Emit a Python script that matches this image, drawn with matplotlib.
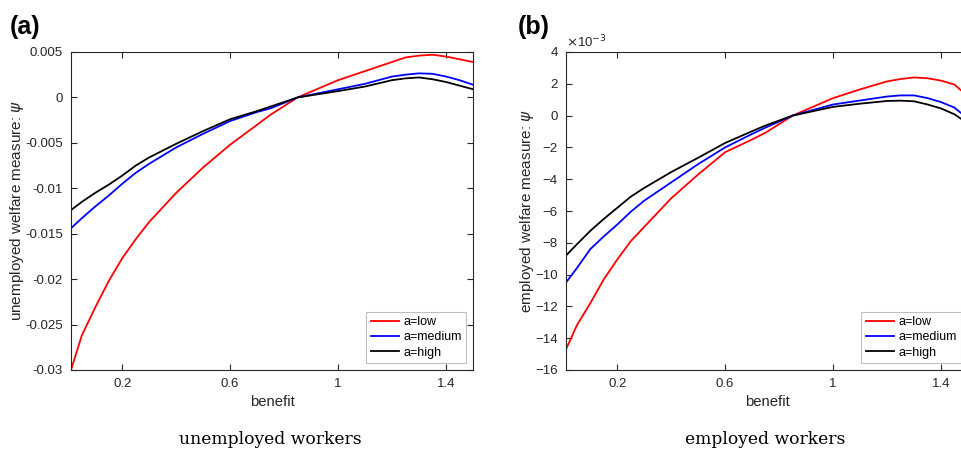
import matplotlib.pyplot as plt

# benefit grid
benefit = [0.01, 0.05, 0.1, 0.15, 0.2, 0.25, 0.3, 0.4, 0.5, 0.6, 0.7, 0.75,
           0.85, 1.0, 1.1, 1.2, 1.25, 1.3, 1.35, 1.4, 1.45, 1.5]

# (a) unemployed welfare measure
unemp_low = [-0.0300, -0.0262, -0.0231, -0.0202, -0.0177, -0.0156, -0.0137,
             -0.0105, -0.0077, -0.0052, -0.0030, -0.0019, 0.0, 0.0019,
             0.0029, 0.0039, 0.0044, 0.0046, 0.0047, 0.0045, 0.0042, 0.0039]
unemp_med = [-0.0144, -0.0133, -0.0120, -0.0108, -0.0095, -0.0083, -0.0073,
             -0.0055, -0.0040, -0.0026, -0.0016, -0.0012, 0.0, 0.0009,
             0.0015, 0.0023, 0.0025, 0.00265, 0.0026, 0.0023, 0.0019, 0.0014]
unemp_high = [-0.0124, -0.0115, -0.0105, -0.0096, -0.0086, -0.0075, -0.0066,
              -0.0051, -0.0037, -0.0024, -0.0015, -0.0010, 0.0, 0.0007,
              0.0012, 0.0019, 0.0021, 0.0022, 0.0020, 0.0017, 0.0013, 0.0009]

# (b) employed welfare measure, in units of 1e-3
emp_low = [-14.7, -13.2, -11.8, -10.3, -9.05, -7.9, -7.0, -5.2, -3.7, -2.3,
           -1.5, -1.07, 0.0, 1.1, 1.65, 2.15, 2.3, 2.4, 2.35, 2.2, 1.95, 1.2]
emp_med = [-10.5, -9.6, -8.4, -7.6, -6.85, -6.05, -5.35, -4.2, -3.05, -2.0,
           -1.15, -0.75, 0.0, 0.7, 0.95, 1.2, 1.27, 1.27, 1.1, 0.85, 0.5, -0.2]
emp_high = [-8.8, -8.1, -7.25, -6.5, -5.8, -5.1, -4.55, -3.55, -2.65, -1.72,
            -0.98, -0.62, 0.0, 0.55, 0.75, 0.92, 0.94, 0.9, 0.7, 0.45, 0.08, -0.5]

labels = ['a=low', 'a=medium', 'a=high']
colors = ['#ff0000', '#0000ff', '#000000']
xticks = [0.2, 0.6, 1, 1.4]
xticklabels = ['0.2', '0.6', '1', '1.4']
yticks_a = [-0.03, -0.025, -0.02, -0.015, -0.01, -0.005, 0, 0.005]
yticklabels_a = ['-0.03', '-0.025', '-0.02', '-0.015', '-0.01', '-0.005', '0', '0.005']
yticks_b = [-16, -14, -12, -10, -8, -6, -4, -2, 0, 2, 4]

plt.rcParams['font.family'] = ['Liberation Sans', 'DejaVu Sans']
axcol = '#262626'

fig = plt.figure(figsize=(9.62, 4.55), dpi=100)
ax_a = fig.add_axes([71 / 962, 85 / 455, 402 / 962, 318 / 455])
ax_b = fig.add_axes([566 / 962, 85 / 455, 402 / 962, 318 / 455])


def style_axes(ax, ylabel):
    ax.set_xlim(0.01, 1.5)
    ax.set_xticks(xticks)
    ax.set_xticklabels(xticklabels)
    ax.tick_params(direction='in', top=True, right=True, length=4, width=0.8,
                   colors=axcol, labelsize=9.5, pad=6)
    for s in ax.spines.values():
        s.set_color(axcol)
        s.set_linewidth(0.8)
    ax.set_xlabel('benefit', fontsize=10.7, color=axcol, labelpad=3)
    ax.set_ylabel(ylabel, fontsize=11, color=axcol, labelpad=-1)
    leg = ax.legend(loc='lower right', bbox_to_anchor=(1 - 7 / 402, 7 / 318),
                    borderaxespad=0, fontsize=9, fancybox=False, handlelength=2.3,
                    handletextpad=0.3, labelspacing=0.25, borderpad=0.35)
    leg.get_frame().set_edgecolor('#b0b0b0')
    leg.get_frame().set_linewidth(0.8)


for y, c, l in zip([unemp_low, unemp_med, unemp_high], colors, labels):
    ax_a.plot(benefit, y, color=c, lw=1.3, label=l)
ax_a.set_ylim(-0.03, 0.005)
ax_a.set_yticks(yticks_a)
ax_a.set_yticklabels(yticklabels_a)
style_axes(ax_a, r'unemployed welfare measure: $\psi$')

for y, c, l in zip([emp_low, emp_med, emp_high], colors, labels):
    ax_b.plot(benefit, y, color=c, lw=1.3, label=l)
ax_b.set_ylim(-16, 4)
ax_b.set_yticks(yticks_b)
style_axes(ax_b, r'employed welfare measure: $\psi$')
ax_b.text(0.0, 1.005, r'$\times$10$^{-3}$', transform=ax_b.transAxes,
          fontsize=9.5, color=axcol, ha='left', va='bottom')

fig.text(10 / 962, 1 - 27 / 455, '(a)', fontsize=18, fontweight='bold',
         ha='left', va='center')
fig.text(518 / 962, 1 - 27 / 455, '(b)', fontsize=18, fontweight='bold',
         ha='left', va='center')

fig.text(270 / 962, 1 - 440 / 455, 'unemployed workers', fontsize=12.3,
         family='DejaVu Serif', ha='center', va='center')
fig.text(765 / 962, 1 - 440 / 455, 'employed workers', fontsize=12.3,
         family='DejaVu Serif', ha='center', va='center')

fig.savefig('out.png', dpi=100)
